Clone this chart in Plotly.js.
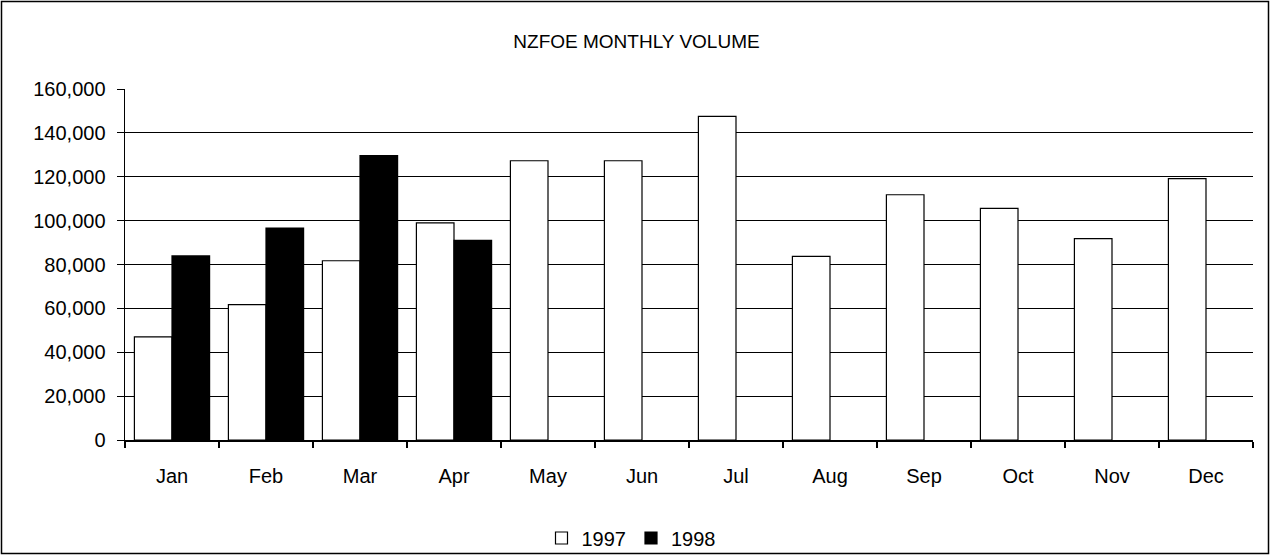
<!DOCTYPE html>
<html>
<head>
<meta charset="utf-8">
<script src="https://cdn.plot.ly/plotly-3.0.1.min.js"></script>
<style>
  html, body { margin: 0; padding: 0; background: #ffffff; }
  #chart { width: 1273px; height: 556px; }
</style>
</head>
<body>
<div id="chart"></div>
<script>
// ---- data ----
const months = ["Jan", "Feb", "Mar", "Apr", "May", "Jun", "Jul", "Aug", "Sep", "Oct", "Nov", "Dec"];
const vol1997 = [47000, 61700, 81700, 99000, 127300, 127300, 147500, 83700, 111800, 105600, 91800, 119100];
const vol1998 = [83900, 96600, 129600, 91000, null, null, null, null, null, null, null, null];
const seriesNames = ["1997", "1998"];
const chartTitle = "NZFOE MONTHLY VOLUME";
const yTickVals = [0, 20000, 40000, 60000, 80000, 100000, 120000, 140000, 160000];

const FONT = 'Arial, "Liberation Sans", sans-serif';

const traces = [
  {
    type: "bar",
    name: seriesNames[0],
    x: months,
    y: vol1997,
    marker: { color: "#ffffff", line: { color: "#000000", width: 1.2 } }
  },
  {
    type: "bar",
    name: seriesNames[1],
    x: months,
    y: vol1998,
    marker: { color: "#000000", line: { color: "#000000", width: 1.2 } }
  }
];

// plot-area geometry helpers (paper coords for the outer frame)
const L = 125, R = 20, T = 89, B = 116, W = 1273, H = 556;
const pw = W - L - R, ph = H - T - B;
const px = v => (v - L) / pw;
const py = v => (H - B - v) / ph;

const layout = {
  width: W,
  height: H,
  margin: { l: L, r: R, t: T, b: B, pad: 0, autoexpand: false },
  paper_bgcolor: "#ffffff",
  plot_bgcolor: "#ffffff",
  font: { family: FONT, color: "#000000", size: 20 },
  title: {
    text: chartTitle,
    font: { family: FONT, size: 19, color: "#000000" },
    x: 0.5, xref: "container", xanchor: "center",
    y: 1 - 41 / H, yref: "container", yanchor: "middle"
  },
  barmode: "group",
  bargap: 0.2,
  bargroupgap: 0,
  showlegend: true,
  legend: {
    orientation: "h",
    xref: "paper",
    x: px(631), xanchor: "center",
    y: py(538), yanchor: "middle",
    font: { family: FONT, size: 20, color: "#000000" },
    bgcolor: "rgba(0,0,0,0)",
    itemclick: false,
    traceorder: "normal"
  },
  xaxis: {
    type: "category",
    showgrid: false,
    showline: true,
    linecolor: "#000000",
    linewidth: 1.5,
    ticks: "outside",
    tickson: "boundaries",
    ticklen: 6,
    tickwidth: 1.5,
    tickcolor: "#000000",
    ticklabelstandoff: 17,
    tickangle: 0,
    tickfont: { family: FONT, size: 20, color: "#000000" },
    zeroline: false,
    fixedrange: true
  },
  yaxis: {
    range: [0, 160000],
    tickvals: yTickVals,
    tickformat: ",",
    showgrid: true,
    gridcolor: "#000000",
    gridwidth: 1,
    showline: true,
    linecolor: "#000000",
    linewidth: 1.5,
    ticks: "outside",
    ticklen: 7,
    tickwidth: 1,
    tickcolor: "#000000",
    ticklabelstandoff: 7,
    tickfont: { family: FONT, size: 20, color: "#000000" },
    zeroline: false,
    fixedrange: true
  },
  shapes: [
    {
      type: "rect", xref: "paper", yref: "paper",
      x0: px(1.5), x1: px(1268.5), y0: py(553.5), y1: py(1.5),
      line: { color: "#000000", width: 1.5 },
      fillcolor: "rgba(0,0,0,0)",
      layer: "above"
    }
  ]
};

Plotly.newPlot("chart", traces, layout, { staticPlot: true, displayModeBar: false });
</script>
</body>
</html>
